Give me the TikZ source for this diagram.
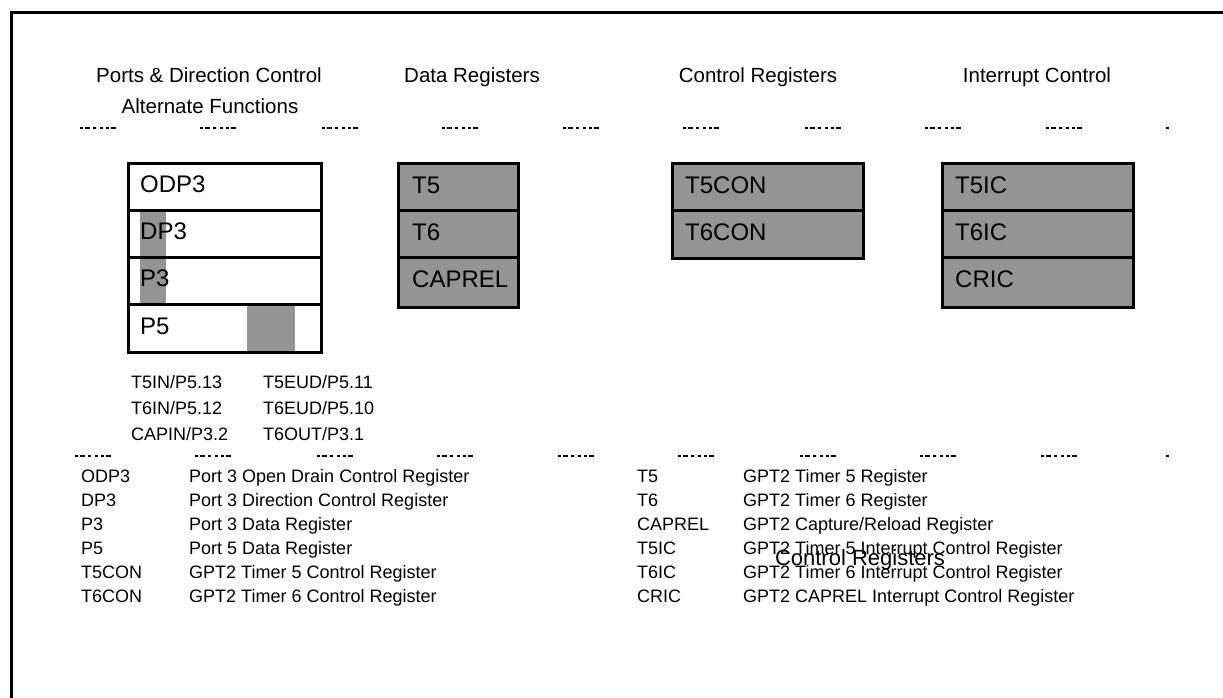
\documentclass[tikz,border=0pt]{standalone}
\usepackage{fontspec}
\setmainfont{Liberation Sans}
\begin{document}
\begin{tikzpicture}[x=1pt,y=-1pt,
  hd/.style={font=\fontsize{20.5}{24}\selectfont, inner sep=0, anchor=base},
  reg/.style={font=\fontsize{24}{28}\selectfont, inner sep=0, anchor=base west},
  sm/.style={font=\fontsize{18}{22}\selectfont, inner sep=0, anchor=base west},
  lg/.style={font=\fontsize{18}{22}\selectfont, inner sep=0, anchor=base west},
  ovl/.style={font=\fontsize{22}{26}\selectfont, inner sep=0, anchor=base},
  frameline/.style={line width=3pt},
  boxline/.style={line width=3pt},
  hatch/.style={fill=black!42},
  tickmark/.style={line width=1.6pt, dash pattern=on 3pt off 2pt on 5pt off 3pt on 3pt off 4pt on 3pt off 3pt}]
\useasboundingbox (0,0) rectangle (1223,698);
% outer frame (only top and left visible)
\draw[frameline] (1226,13) -- (11,13) -- (11,701);
% headings
\node[hd] (h1) at (209,83) {Ports \& Direction Control};
\node[hd] (h1b) at (210,114) {Alternate Functions};
\node[hd] (h2) at (472,83) {Data Registers};
\node[hd] (h3) at (758,83) {Control Registers};
\node[hd] (h4) at (1037,83) {Interrupt Control};
% tick marks
\foreach \x in {80,200,322,442,563,683,805,925,1046} {
  \draw[tickmark] (\x,128) -- ++(36,0);
  \draw[tickmark] (\x-5,456) -- ++(36,0);
}
\draw[line width=1.6pt] (1166,128) -- ++(3,0);
\draw[line width=1.6pt] (1166,456) -- ++(3,0);
% box 1: ports
\fill[hatch] (140,210) rectangle (166,304);
\fill[hatch] (247,304) rectangle (295,352);
\node[reg] (odp3) at (140,192) {ODP3};
\node[reg] (dp3) at (140,239) {DP3};
\node[reg] (p3) at (140,286) {P3};
\node[reg] (p5) at (140,334) {P5};
\draw[boxline] (128,163) rectangle (321,352);
\draw[boxline] (128,210) -- (321,210) (128,257) -- (321,257) (128,304) -- (321,304);
% box 2: data registers
\fill[hatch] (398,163) rectangle (518,307);
\node[reg] (t5) at (412,193) {T5};
\node[reg] (t6) at (412,240) {T6};
\node[reg] (caprel) at (412,287) {CAPREL};
\draw[boxline] (398,163) rectangle (518,307);
\draw[boxline] (398,210) -- (518,210) (398,257) -- (518,257);
% box 3: control registers
\fill[hatch] (672,163) rectangle (863,258);
\node[reg] (t5con) at (685,193) {T5CON};
\node[reg] (t6con) at (685,240) {T6CON};
\draw[boxline] (672,163) rectangle (863,258);
\draw[boxline] (672,210) -- (863,210);
% box 4: interrupt control
\fill[hatch] (942,163) rectangle (1133,307);
\node[reg] (t5ic) at (955,193) {T5IC};
\node[reg] (t6ic) at (955,240) {T6IC};
\node[reg] (cric) at (955,287) {CRIC};
\draw[boxline] (942,163) rectangle (1133,307);
\draw[boxline] (942,210) -- (1133,210) (942,257) -- (1133,257);
% alternate function pins
\node[sm] (a1) at (131,388) {T5IN/P5.13};
\node[sm] (a2) at (263,388) {T5EUD/P5.11};
\node[sm] (a3) at (131,414) {T6IN/P5.12};
\node[sm] (a4) at (263,414) {T6EUD/P5.10};
\node[sm] (a5) at (131,440) {CAPIN/P3.2};
\node[sm] (a6) at (263,440) {T6OUT/P3.1};
% legend
\node[lg] (l1a) at (81,482) {ODP3};  \node[lg] (l1b) at (189,482) {Port 3 Open Drain Control Register};
\node[lg] (l2a) at (81,506) {DP3};   \node[lg] (l2b) at (189,506) {Port 3 Direction Control Register};
\node[lg] (l3a) at (81,530) {P3};    \node[lg] (l3b) at (189,530) {Port 3 Data Register};
\node[lg] (l4a) at (81,554) {P5};    \node[lg] (l4b) at (189,554) {Port 5 Data Register};
\node[lg] (l5a) at (81,578) {T5CON}; \node[lg] (l5b) at (189,578) {GPT2 Timer 5 Control Register};
\node[lg] (l6a) at (81,602) {T6CON}; \node[lg] (l6b) at (189,602) {GPT2 Timer 6 Control Register};
\node[lg] (r1a) at (637,482) {T5};     \node[lg] (r1b) at (743,482) {GPT2 Timer 5 Register};
\node[lg] (r2a) at (637,506) {T6};     \node[lg] (r2b) at (743,506) {GPT2 Timer 6 Register};
\node[lg] (r3a) at (637,530) {CAPREL}; \node[lg] (r3b) at (743,530) {GPT2 Capture/Reload Register};
\node[lg] (r4a) at (637,554) {T5IC};   \node[lg] (r4b) at (743,554) {GPT2 Timer 5 Interrupt Control Register};
\node[lg] (r5a) at (637,578) {T6IC};   \node[lg] (r5b) at (743,578) {GPT2 Timer 6 Interrupt Control Register};
\node[lg] (r6a) at (637,602) {CRIC};   \node[lg] (r6b) at (743,602) {GPT2 CAPREL Interrupt Control Register};
\node[ovl] (ovl) at (860,565) {Control Registers};
\end{tikzpicture}
\end{document}
